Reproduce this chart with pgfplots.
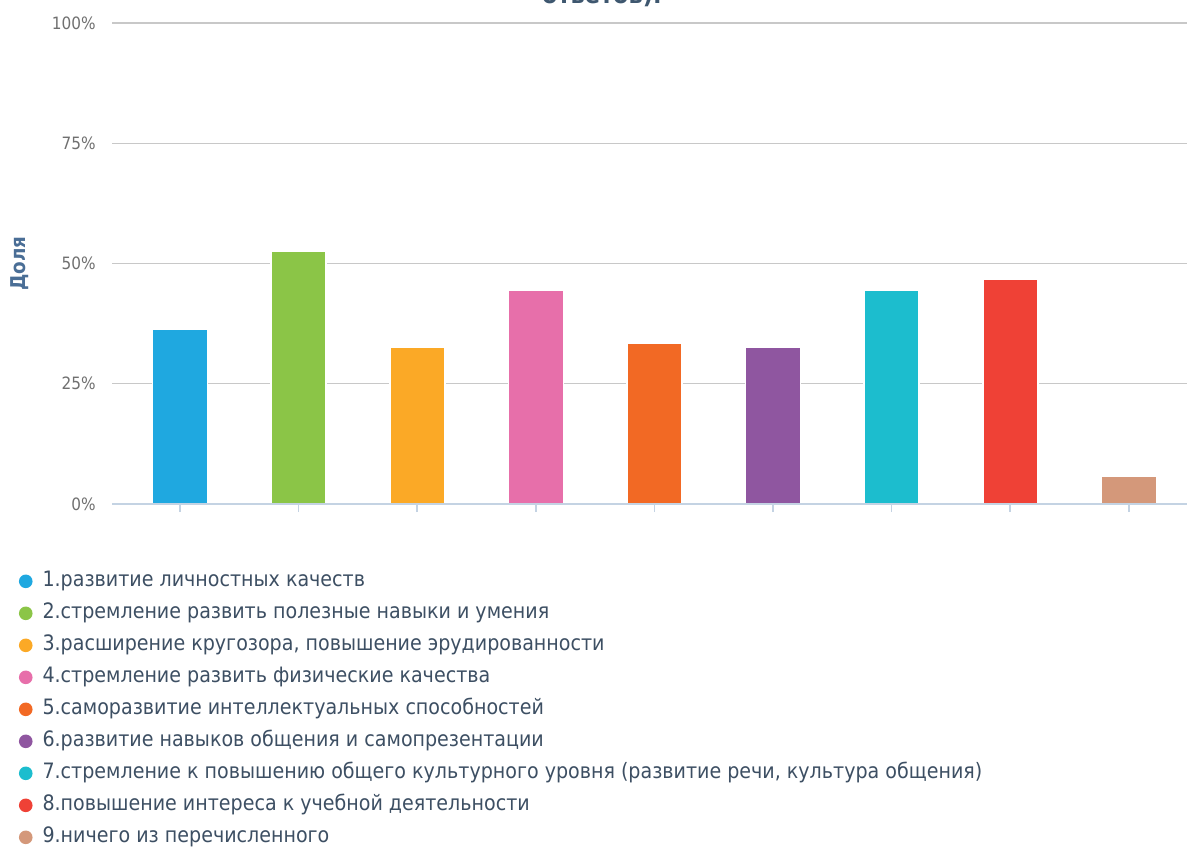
\documentclass[border=0pt]{standalone}
\usepackage{pgfplots}
\pgfplotsset{compat=1.18}
\usepackage{fontspec}
\setmainfont{DejaVu Sans Condensed}
\definecolor{c1}{HTML}{1FA8E0}
\definecolor{c2}{HTML}{8BC547}
\definecolor{c3}{HTML}{FBA926}
\definecolor{c4}{HTML}{E76FAA}
\definecolor{c5}{HTML}{F26924}
\definecolor{c6}{HTML}{8F56A0}
\definecolor{c7}{HTML}{1CBDCE}
\definecolor{c8}{HTML}{EF4136}
\definecolor{c9}{HTML}{D4987A}
\definecolor{gridcol}{HTML}{C8C8C8}
\definecolor{axiscol}{HTML}{C4D3E3}
\definecolor{tickcol}{HTML}{707070}
\definecolor{legcol}{HTML}{3D4F63}
\definecolor{labcol}{HTML}{4A6E96}
\definecolor{titlecol}{HTML}{3E576F}
\begin{document}
\begin{tikzpicture}[x=1pt,y=1pt]
\useasboundingbox (0,0) rectangle (593.5,424);
\node[anchor=base, font=\bfseries\fontsize{12.5}{14}\selectfont, text=titlecol] at (301,422) {ответов).};
\begin{axis}[
  at={(56pt,172pt)}, anchor=south west,
  scale only axis, width=537.5pt, height=240.5pt,
  ymin=0, ymax=100, xmin=-0.573, xmax=8.49,
  ytick={0,25,50,75,100},
  yticklabel={\pgfmathprintnumber{\tick}\%},
  /pgf/number format/assume math mode=true,
  yticklabel style={font=\fontsize{8.5}{9}\selectfont, text=tickcol, inner sep=0pt, xshift=-4pt},
  xtick={0,...,8}, xticklabels={},
  axis x line*=bottom, axis y line*=left,
  y axis line style={draw=none},
  x axis line style={draw=axiscol, line width=0.8pt},
  ytick style={draw=none},
  xtick style={draw=axiscol, line width=0.8pt},
  tick align=outside, major tick length=4pt,
  ymajorgrids, grid style={gridcol, line width=0.7pt},
  ylabel={Доля},
  ylabel style={font=\bfseries\fontsize{10.2}{11}\selectfont, text=labcol, at={(axis description cs:-0.0856,0.5)}, anchor=center},
  ybar, bar width=27.5pt, bar shift=0pt,
  legend cell align=left,
  legend image code/.code={\fill[#1, draw=none] (3.4pt,0pt) circle (3.4pt);},
  legend style={draw=none, fill=none, at={(axis description cs:-0.0925,-0.1329)}, anchor=north west,
    font=\fontsize{10.6}{12}\selectfont, text=legcol, row sep=7pt,
    nodes={inner sep=0pt, text height=7pt, text depth=2pt},
    /tikz/every odd column/.append style={column sep=5pt}},
  after end axis/.code={\draw[axiscol, line width=0.8pt] (axis cs:-0.573,0) -- (axis cs:8.49,0);},
]
\addplot[fill=c1, draw=white, line width=0.8pt] coordinates {(0,36.3)};
\addplot[fill=c2, draw=white, line width=0.8pt] coordinates {(1,52.6)};
\addplot[fill=c3, draw=white, line width=0.8pt] coordinates {(2,32.5)};
\addplot[fill=c4, draw=white, line width=0.8pt] coordinates {(3,44.4)};
\addplot[fill=c5, draw=white, line width=0.8pt] coordinates {(4,33.5)};
\addplot[fill=c6, draw=white, line width=0.8pt] coordinates {(5,32.5)};
\addplot[fill=c7, draw=white, line width=0.8pt] coordinates {(6,44.4)};
\addplot[fill=c8, draw=white, line width=0.8pt] coordinates {(7,46.7)};
\addplot[fill=c9, draw=white, line width=0.8pt] coordinates {(8,5.7)};
\legend{1.развитие личностных качеств,
2.стремление развить полезные навыки и умения,
{3.расширение кругозора, повышение эрудированности},
4.стремление развить физические качества,
5.саморазвитие интеллектуальных способностей,
6.развитие навыков общения и самопрезентации,
{7.стремление к повышению общего культурного уровня (развитие речи, культура общения)},
8.повышение интереса к учебной деятельности,
9.ничего из перечисленного}
\end{axis}
\end{tikzpicture}
\end{document}
